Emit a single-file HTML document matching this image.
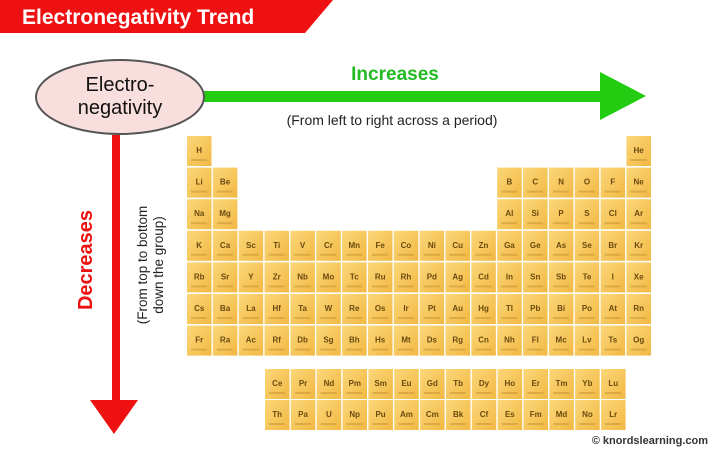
<!DOCTYPE html>
<html><head><meta charset="utf-8"><style>
html,body{margin:0;padding:0;background:#fff;}
svg{display:block;font-family:"Liberation Sans",sans-serif;}
</style></head><body>
<svg id="s" width="720" height="450" viewBox="0 0 720 450" xmlns="http://www.w3.org/2000/svg">
<defs>
<linearGradient id="g" x1="0" y1="0" x2="1" y2="1">
<stop offset="0" stop-color="#fbd77a"/><stop offset="1" stop-color="#f2b842"/>
</linearGradient>
</defs>
<polygon points="0,0 333,0 305,33 0,33" fill="#ee1111"/>
<text x="22" y="24" font-size="21" font-weight="bold" fill="#fff">Electronegativity Trend</text>
<!-- green arrow -->
<rect x="200" y="91" width="405" height="11" fill="#22cc11"/>
<polygon points="600,72 646,96 600,120" fill="#22cc11"/>
<text x="395" y="80" font-size="19" font-weight="bold" fill="#22bb22" text-anchor="middle">Increases</text>
<text x="392" y="125" font-size="14" fill="#222" text-anchor="middle">(From left to right across a period)</text>
<!-- red arrow -->
<rect x="112" y="135" width="8" height="270" fill="#ee1111"/>
<polygon points="90,400 138,400 114,434" fill="#ee1111"/>
<text transform="translate(92,260) rotate(-90)" font-size="20" font-weight="bold" fill="#ee1111" text-anchor="middle">Decreases</text>
<text transform="translate(147,265) rotate(-90)" font-size="13.5" fill="#222" text-anchor="middle">(From top to bottom</text>
<text transform="translate(163,265) rotate(-90)" font-size="13.5" fill="#222" text-anchor="middle">down the group)</text>
<ellipse cx="120" cy="97" rx="84" ry="37" fill="#f9dede" stroke="#555" stroke-width="2"/>
<text x="120" y="91" font-size="20" fill="#111" text-anchor="middle">Electro-</text>
<text x="120" y="114" font-size="20" fill="#111" text-anchor="middle">negativity</text>
<g id="cells"></g>
<text x="708" y="444" font-size="11" font-weight="bold" fill="#333" text-anchor="end">© knordslearning.com</text>
</svg>
<script>
var rows=[
"H,,,,,,,,,,,,,,,,,He",
"Li,Be,,,,,,,,,,,B,C,N,O,F,Ne",
"Na,Mg,,,,,,,,,,,Al,Si,P,S,Cl,Ar",
"K,Ca,Sc,Ti,V,Cr,Mn,Fe,Co,Ni,Cu,Zn,Ga,Ge,As,Se,Br,Kr",
"Rb,Sr,Y,Zr,Nb,Mo,Tc,Ru,Rh,Pd,Ag,Cd,In,Sn,Sb,Te,I,Xe",
"Cs,Ba,La,Hf,Ta,W,Re,Os,Ir,Pt,Au,Hg,Tl,Pb,Bi,Po,At,Rn",
"Fr,Ra,Ac,Rf,Db,Sg,Bh,Hs,Mt,Ds,Rg,Cn,Nh,Fl,Mc,Lv,Ts,Og"];
var f=["Ce,Pr,Nd,Pm,Sm,Eu,Gd,Tb,Dy,Ho,Er,Tm,Yb,Lu","Th,Pa,U,Np,Pu,Am,Cm,Bk,Cf,Es,Fm,Md,No,Lr"];
var h="";
function cell(x,y,s){
h+='<rect x="'+x+'" y="'+y+'" width="24.5" height="30" fill="url(#g)"/>';
h+='<text x="'+(x+12.2)+'" y="'+(y+17)+'" font-size="8" font-weight="bold" fill="#6a4a10" text-anchor="middle">'+s+'</text>';
h+='<rect x="'+(x+4)+'" y="'+(y+23)+'" width="16" height="2" fill="#c99a3a" opacity="0.6"/>';
}
rows.forEach(function(r,i){r.split(",").forEach(function(s,j){if(s)cell(187+j*25.85,136+i*31.6,s);});});
f.forEach(function(r,i){r.split(",").forEach(function(s,j){cell(265+j*25.85,369+i*31,s);});});
document.getElementById("cells").innerHTML=h;
</script>
</body></html>
